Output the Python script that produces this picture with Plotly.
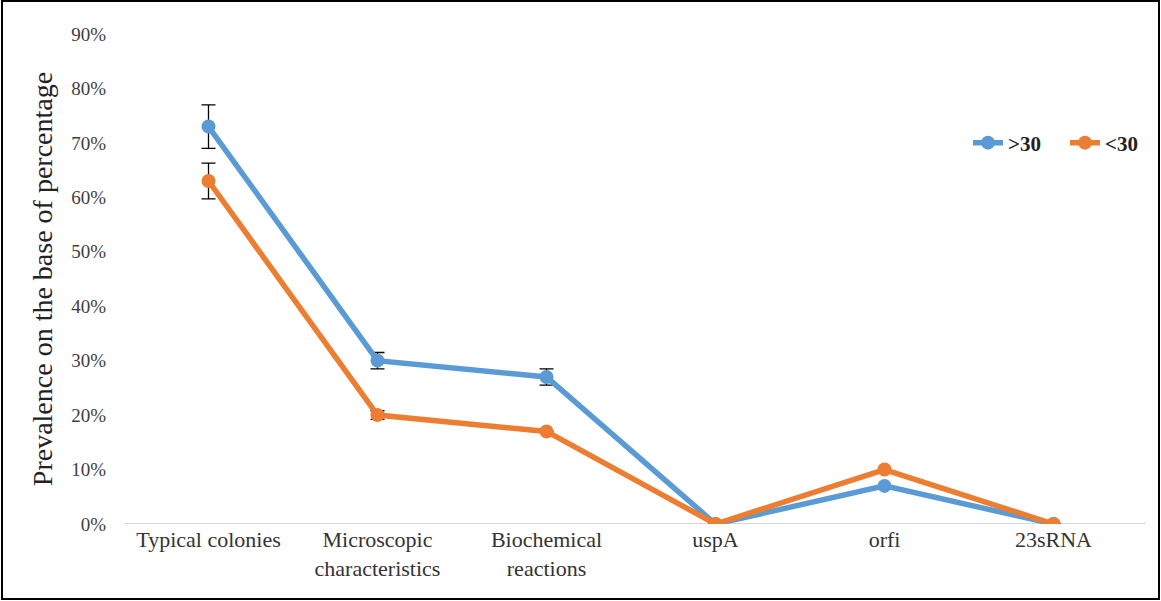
import plotly.graph_objects as go

categories = ["Typical colonies", "Microscopic<br>characteristics", "Biochemical<br>reactions", "uspA", "orfi", "23sRNA"]
over30 = [0.73, 0.30, 0.27, 0.0, 0.07, 0.0]
over30_err = [0.04, 0.015, 0.015, 0.0, 0.0, 0.0]
under30 = [0.63, 0.20, 0.17, 0.0, 0.10, 0.0]
under30_err = [0.033, 0.008, 0.0, 0.0, 0.0, 0.0]
ytick_vals = [0, 0.1, 0.2, 0.3, 0.4, 0.5, 0.6, 0.7, 0.8, 0.9]
ytick_text = ["0%", "10%", "20%", "30%", "40%", "50%", "60%", "70%", "80%", "90%"]

W, H = 1161, 601
L, R, T, B = 124, 23, 34, 77
pw, ph = W - L - R, H - T - B

fig = go.Figure()
fig.add_trace(go.Scatter(
    x=categories, y=over30, name=">30", mode="lines+markers",
    line=dict(color="#5B9BD5", width=5.5), marker=dict(size=14, color="#5B9BD5"),
    error_y=dict(type="data", array=over30_err, color="black", thickness=1.3, width=7, visible=True),
))
fig.add_trace(go.Scatter(
    x=categories, y=under30, name="<30", mode="lines+markers",
    line=dict(color="#ED7D31", width=5.5), marker=dict(size=14, color="#ED7D31"),
    error_y=dict(type="data", array=under30_err, color="black", thickness=1.3, width=7, visible=True),
))

fig.update_layout(
    width=W, height=H,
    margin=dict(l=L, r=R, t=T, b=B, pad=0, autoexpand=False),
    paper_bgcolor="white", plot_bgcolor="white",
    font=dict(family="Liberation Serif", color="#404040", size=19),
    showlegend=True,
    legend=dict(orientation="h", x=(968 - L) / pw, xanchor="left", y=(H - B - 143) / ph, yanchor="middle",
                font=dict(family="Liberation Serif", size=21, color="#222222", weight="bold"),
                bgcolor="rgba(0,0,0,0)", entrywidth=52, entrywidthmode="pixels", tracegroupgap=0),
    xaxis=dict(range=[-0.5, 5.5], showgrid=False, showline=False,
               ticks="", tickfont=dict(size=22, color="#333333"), zeroline=False),
    yaxis=dict(range=[0, 0.9], tickvals=ytick_vals, ticktext=ytick_text, showgrid=False,
               zeroline=False, showline=False, ticks="", ticklen=0, ticklabelstandoff=17,
               tickfont=dict(size=19, color="#404040"),
               title=dict(text="Prevalence on the base of percentage",
                          font=dict(size=28, color="#222222"), standoff=10)),
    shapes=[
        dict(type="line", xref="paper", yref="y", x0=0, x1=1 + 8 / pw, y0=0, y1=0,
             line=dict(color="#D9D9D9", width=2), layer="below"),
        dict(type="rect", xref="paper", yref="paper",
             x0=-(L - 2) / pw, x1=1 + (R - 2) / pw,
             y0=-(B - 2) / ph, y1=1 + (T - 1) / ph,
             line=dict(color="black", width=2), fillcolor="rgba(0,0,0,0)", layer="above"),
    ],
)

fig.write_html("out.html", config={"displayModeBar": False},
               post_script="document.body.style.margin='0px';")
